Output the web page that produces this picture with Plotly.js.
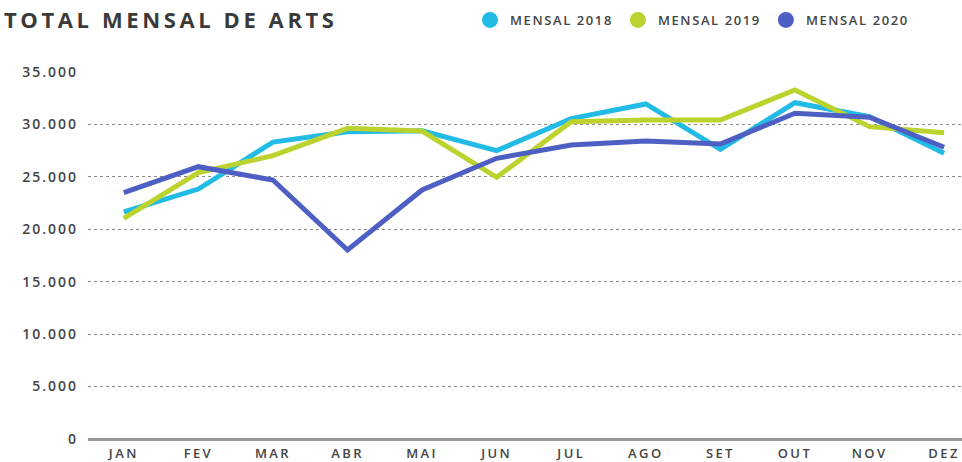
<!DOCTYPE html>
<html>
<head>
<meta charset="utf-8">
<script src="https://cdn.plot.ly/plotly-3.0.1.min.js"></script>
<style>
html,body{margin:0;padding:0;background:#fff;}
#chart{width:962px;height:462px;}
.gtitle{letter-spacing:3.6px;}
.legendtext{letter-spacing:1.6px;}
.xtick text{letter-spacing:2.4px;}
.ytick text{letter-spacing:2px;}
</style>
</head>
<body>
<div id="chart"></div>
<script>
const months = ["JAN","FEV","MAR","ABR","MAI","JUN","JUL","AGO","SET","OUT","NOV","DEZ"];
const seriesNames = ["MENSAL 2018","MENSAL 2019","MENSAL 2020"];
const mensal2018 = [21650,23840,28320,29300,29400,27500,30550,31950,27630,32070,30740,27250];
const mensal2019 = [21050,25400,27020,29630,29370,24960,30260,30420,30420,33280,29790,29210];
const mensal2020 = [23490,25970,24700,18025,23750,26770,28040,28420,28130,31060,30680,27820];
const yTicks = [0,5000,10000,15000,20000,25000,30000,35000];
const colors = ["#22bbe6","#bcd22e","#4e5fc4"];

const allSeries = [mensal2018, mensal2019, mensal2020];
const traces = [];
allSeries.forEach((vals, i) => {
  traces.push({
    type: "scatter", mode: "lines", x: months, y: vals, name: seriesNames[i],
    line: {color: colors[i], width: 5}, showlegend: false, hoverinfo: "skip"
  });
});
seriesNames.forEach((nm, i) => {
  traces.push({
    type: "scatter", mode: "markers", x: [null], y: [null], name: nm,
    marker: {color: colors[i], size: 17, symbol: "circle"}, showlegend: true
  });
});

const font = "'Open Sans', sans-serif";
const W = 962, H = 462;
const layout = {
  width: W, height: H,
  margin: {l: 88, r: 0, t: 72, b: 23, pad: 0},
  paper_bgcolor: "#fff", plot_bgcolor: "#fff",
  separators: ",.",
  title: {
    text: "<b>TOTAL MENSAL DE ARTS</b>",
    x: 4 / W, xref: "container", xanchor: "left",
    y: 1 - 20 / H, yref: "container", yanchor: "middle",
    font: {family: font, size: 22, color: "#3a3a3a"}
  },
  showlegend: true,
  legend: {
    orientation: "h", x: 470 / W, xref: "container", xanchor: "left",
    y: 1 - 20 / H, yref: "container", yanchor: "middle",
    font: {family: font, size: 13, color: "#444", weight: 600},
    bgcolor: "rgba(0,0,0,0)", borderwidth: 0, itemclick: false
  },
  xaxis: {
    type: "category", categoryorder: "array", categoryarray: months,
    range: [-0.48, 11.24], showgrid: false, zeroline: false,
    showline: false, ticks: "", ticklabelstandoff: 5,
    tickfont: {family: font, size: 13, color: "#444", weight: 600},
    fixedrange: true
  },
  yaxis: {
    range: [0, 35000], tickvals: yTicks, tickformat: ",d",
    showgrid: true, gridcolor: "#8a8a8a", gridwidth: 1, griddash: "dot",
    zeroline: true, zerolinecolor: "#999", zerolinewidth: 3,
    showline: false, ticks: "", ticklabelstandoff: 9,
    tickfont: {family: font, size: 14, color: "#444", weight: 600},
    fixedrange: true
  }
};
Plotly.newPlot("chart", traces, layout, {displayModeBar: false, staticPlot: true});
</script>
</body>
</html>
